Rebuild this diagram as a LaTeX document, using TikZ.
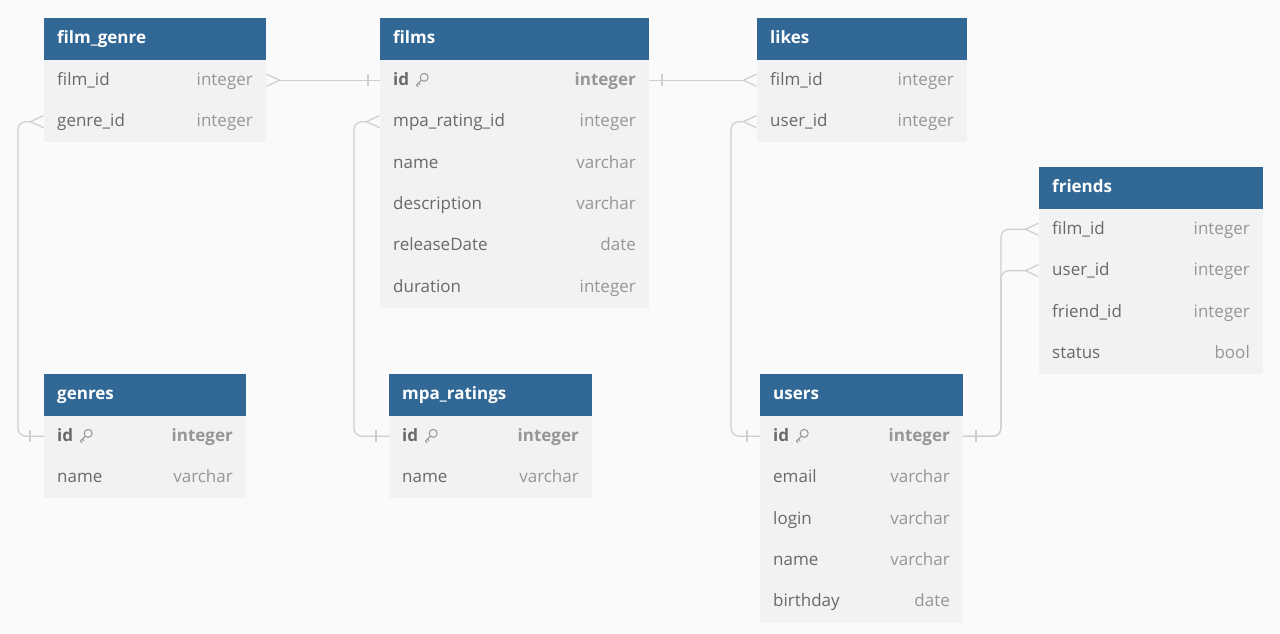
\documentclass[tikz,border=0pt]{standalone}
\usepackage{fontspec}
\setmainfont{Open Sans}
\usepackage{xcolor}
\usepackage{tikz}
\usetikzlibrary{arrows.meta}

\definecolor{headblue}{RGB}{50,104,150}
\definecolor{rowgray}{RGB}{242,242,242}
\definecolor{pagegray}{RGB}{250,250,250}
\definecolor{namegray}{RGB}{105,105,105}
\definecolor{typegray}{RGB}{150,150,150}
\definecolor{linegray}{RGB}{206,206,206}

\tikzset{
	tblhead/.style={fill=headblue,anchor=north west,inner sep=0pt,outer sep=0pt,
		minimum height=41.5pt},
	rowbox/.style={fill=rowgray,anchor=north west,inner sep=0pt,outer sep=0pt,
		minimum height=41.5pt},
	headtext/.style={anchor=base west,xshift=13pt,yshift=-5pt,inner sep=0pt,
		text=white,font=\fontsize{17}{20}\selectfont\bfseries},
	fname/.style={anchor=base west,xshift=13pt,yshift=-5pt,inner sep=0pt,
		text=namegray,font=\fontsize{17}{20}\selectfont},
	ftype/.style={anchor=base east,xshift=-13pt,yshift=-5pt,inner sep=0pt,
		text=typegray,font=\fontsize{17}{20}\selectfont},
	conn/.style={draw=linegray,line width=1.2pt,rounded corners=8pt},
	crow/.tip={Straight Barb[reversed,length=13pt,width=12pt,line width=1.2pt]},
	onetick/.style={draw=linegray,line width=1.2pt},
	keyicon/.pic={
		\draw[typegray,line width=1pt] (2.2,-2.4) circle (4pt);
		\draw[typegray,line width=1pt,line join=round]
			(-0.6,0.4) -- (-5.6,5.4) -- (-3.8,7.2) (-3.4,3.4) -- (-1.8,5);
	}
}

\begin{document}
\begin{tikzpicture}[x=1pt,y=-1pt]
	\fill[pagegray] (0,0) rectangle (1280,633);
	\useasboundingbox (0,0) rectangle (1280,633);

	% film_genre
	\node[tblhead,minimum width=222pt] (fg) at (44,18) {};
	\node[headtext] at (fg.west) {film\_genre};
	\foreach \f/\t [count=\i] in {film\_id/integer,genre\_id/integer}{
		\node[rowbox,minimum width=222pt] (fg-\i) at (44,{59.5+41.4*(\i-1)}) {};
		\node[fname] at (fg-\i.west) {\f};
		\node[ftype] at (fg-\i.east) {\t};
	}

	% films
	\node[tblhead,minimum width=269pt] (fm) at (380,18) {};
	\node[headtext] at (fm.west) {films};
	\foreach \f/\t [count=\i] in {\textbf{id}/\textbf{integer},
		mpa\_rating\_id/integer,name/varchar,description/varchar,
		releaseDate/date,duration/integer}{
		\node[rowbox,minimum width=269pt] (fm-\i) at (380,{59.5+41.4*(\i-1)}) {};
		\node[fname] at (fm-\i.west) {\f};
		\node[ftype] at (fm-\i.east) {\t};
	}
	\pic at ([xshift=42pt,yshift=0.5pt]fm-1.west) {keyicon};

	% likes
	\node[tblhead,minimum width=210pt] (lk) at (757,18) {};
	\node[headtext] at (lk.west) {likes};
	\foreach \f/\t [count=\i] in {film\_id/integer,user\_id/integer}{
		\node[rowbox,minimum width=210pt] (lk-\i) at (757,{59.5+41.4*(\i-1)}) {};
		\node[fname] at (lk-\i.west) {\f};
		\node[ftype] at (lk-\i.east) {\t};
	}

	% friends
	\node[tblhead,minimum width=224pt] (fr) at (1039,167) {};
	\node[headtext] at (fr.west) {friends};
	\foreach \f/\t [count=\i] in {film\_id/integer,user\_id/integer,
		friend\_id/integer,status/bool}{
		\node[rowbox,minimum width=224pt] (fr-\i) at (1039,{208.5+41.4*(\i-1)}) {};
		\node[fname] at (fr-\i.west) {\f};
		\node[ftype] at (fr-\i.east) {\t};
	}

	% genres
	\node[tblhead,minimum width=202pt] (gn) at (44,374) {};
	\node[headtext] at (gn.west) {genres};
	\foreach \f/\t [count=\i] in {\textbf{id}/\textbf{integer},name/varchar}{
		\node[rowbox,minimum width=202pt] (gn-\i) at (44,{415.5+41.4*(\i-1)}) {};
		\node[fname] at (gn-\i.west) {\f};
		\node[ftype] at (gn-\i.east) {\t};
	}
	\pic at ([xshift=42pt,yshift=0.5pt]gn-1.west) {keyicon};

	% mpa_ratings
	\node[tblhead,minimum width=203pt] (mp) at (389,374) {};
	\node[headtext] at (mp.west) {mpa\_ratings};
	\foreach \f/\t [count=\i] in {\textbf{id}/\textbf{integer},name/varchar}{
		\node[rowbox,minimum width=203pt] (mp-\i) at (389,{415.5+41.4*(\i-1)}) {};
		\node[fname] at (mp-\i.west) {\f};
		\node[ftype] at (mp-\i.east) {\t};
	}
	\pic at ([xshift=42pt,yshift=0.5pt]mp-1.west) {keyicon};

	% users
	\node[tblhead,minimum width=203pt] (us) at (760,374) {};
	\node[headtext] at (us.west) {users};
	\foreach \f/\t [count=\i] in {\textbf{id}/\textbf{integer},email/varchar,
		login/varchar,name/varchar,birthday/date}{
		\node[rowbox,minimum width=203pt] (us-\i) at (760,{415.5+41.4*(\i-1)}) {};
		\node[fname] at (us-\i.west) {\f};
		\node[ftype] at (us-\i.east) {\t};
	}
	\pic at ([xshift=42pt,yshift=0.5pt]us-1.west) {keyicon};

	% relations
	\draw[conn,{crow}-] (fg-1.east) -- (fm-1.west);
	\draw[onetick] ([xshift=-12pt]fm-1.west) ++(0,-6) -- ++(0,12);

	\draw[conn,{crow}-] (fg-2.west) -- ++(-26,0) |- (gn-1.west);
	\draw[onetick] ([xshift=-14pt]gn-1.west) ++(0,-6) -- ++(0,12);

	\draw[conn,{crow}-] (fm-2.west) -- ++(-26,0) |- (mp-1.west);
	\draw[onetick] ([xshift=-13pt]mp-1.west) ++(0,-6) -- ++(0,12);

	\draw[conn,-{crow}] (fm-1.east) -- (lk-1.west);
	\draw[onetick] ([xshift=13pt]fm-1.east) ++(0,-6) -- ++(0,12);

	\draw[conn,{crow}-] (lk-2.west) -- ++(-26,0) |- (us-1.west);
	\draw[onetick] ([xshift=-13pt]us-1.west) ++(0,-6) -- ++(0,12);

	\draw[conn,-{crow}] (us-1.east) -- ++(38,0) |- (fr-1.west);
	\draw[conn,-{crow}] (us-1.east) -- ++(38,0) |- (fr-2.west);
	\draw[onetick] ([xshift=13pt]us-1.east) ++(0,-6) -- ++(0,12);
\end{tikzpicture}
\end{document}
